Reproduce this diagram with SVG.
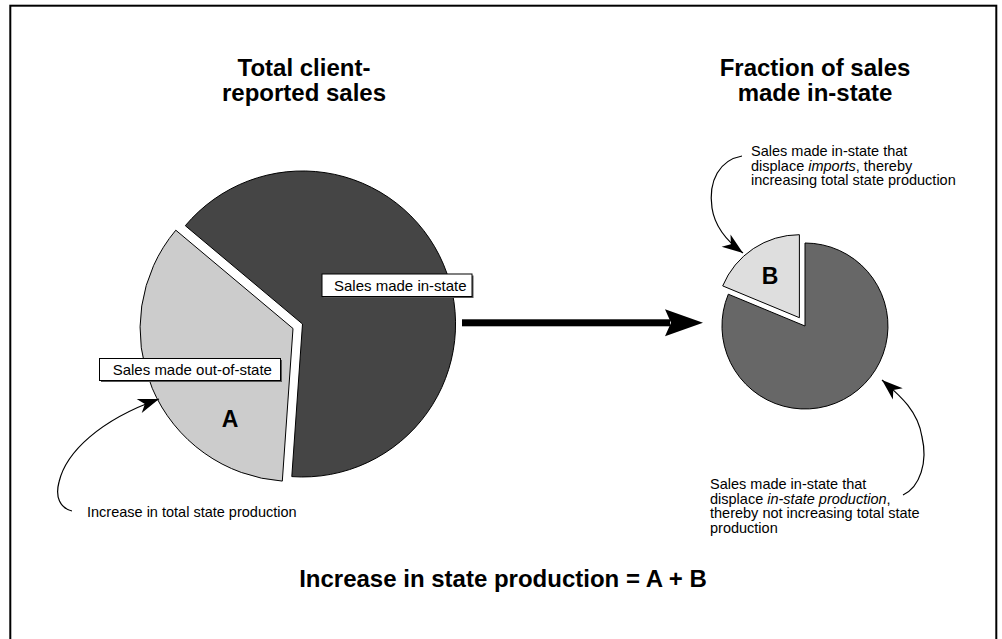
<svg xmlns="http://www.w3.org/2000/svg" width="1002" height="639" viewBox="0 0 1002 639">
<style>
.title{font-family:"Liberation Sans",Arial,sans-serif;font-weight:bold;font-size:24px;fill:#000;text-anchor:middle}
.note{font-family:"Liberation Sans",Arial,sans-serif;font-size:14.5px;fill:#000}
.lbl{font-family:"Liberation Sans",Arial,sans-serif;font-size:15px;fill:#000}
.letter{font-family:"Liberation Sans",Arial,sans-serif;font-weight:bold;font-size:23px;fill:#000;text-anchor:middle}
.slice{stroke:#000;stroke-width:1}
.box{fill:#fff;stroke:#000;stroke-width:1}
.shadow{fill:#555}
.curve{fill:none;stroke:#000;stroke-width:1.2}
</style>
<defs>
<marker id="head" markerUnits="userSpaceOnUse" markerWidth="24" markerHeight="18" viewBox="-22 -9 24 18" refX="0" refY="0" orient="auto">
<path d="M0,0 L-21,-7.5 L-15,0 L-21,7.5 Z" fill="#000"/>
</marker>
</defs>
<rect x="10.3" y="5.7" width="986" height="700" fill="#fff" stroke="#000" stroke-width="2"/>

<g id="title-left">
<text class="title" x="304" y="76">Total client-</text>
<text class="title" x="304" y="100.5">reported sales</text>
</g>
<g id="title-right">
<text class="title" x="815" y="76">Fraction of sales</text>
<text class="title" x="815" y="100.5">made in-state</text>
</g>

<g id="pie-left">
<path class="slice" fill="#454545" d="M302.5,324 L185.3,225.7 A153,153 0 1 1 291.8,476.6 Z"/>
<path class="slice" fill="#cccccc" d="M293,328.5 L282.3,481.1 A153,153 0 0 1 175.8,230.2 Z"/>
<text class="letter" x="230" y="427">A</text>
</g>

<g id="label-in-state">
<rect class="shadow" x="323.5" y="275.5" width="150" height="22.5"/>
<rect class="box" x="322" y="274" width="150" height="22.5"/>
<text class="lbl" x="334" y="291">Sales made in-state</text>
</g>
<g id="label-out-of-state">
<rect class="shadow" x="101" y="360" width="181" height="22"/>
<rect class="box" x="99.5" y="358.5" width="181" height="22"/>
<text class="lbl" x="112.7" y="374.5">Sales made out-of-state</text>
</g>

<g id="pie-right">
<path class="slice" fill="#676767" d="M805,326 L805,243 A83,83 0 1 1 728.3,294.2 Z"/>
<path class="slice" fill="#dedede" d="M799.4,317.7 L722.7,285.9 A83,83 0 0 1 799.4,234.7 Z"/>
<text class="letter" x="770" y="284">B</text>
</g>

<g id="note-left">
<text class="note" x="87" y="517">Increase in total state production</text>
</g>
<g id="note-top-right">
<text class="note" x="751" y="156">Sales made in-state that</text>
<text class="note" x="751" y="170.5">displace <tspan font-style="italic">imports</tspan>, thereby</text>
<text class="note" x="751" y="185">increasing total state production</text>
</g>
<g id="note-bottom-right">
<text class="note" x="710" y="489">Sales made in-state that</text>
<text class="note" x="710" y="503.5">displace <tspan font-style="italic">in-state production</tspan>,</text>
<text class="note" x="710" y="518">thereby not increasing total state</text>
<text class="note" x="710" y="532.5">production</text>
</g>

<g id="connectors">
<rect x="462" y="319.3" width="208" height="7" fill="#000"/>
<polygon points="665,309.3 703,322.8 665,336.2 671,322.8" fill="#000"/>
<path class="curve" d="M72,511 C60,508 55,497 59,482 C66,452 100,420 159,399" marker-end="url(#head)"/>
<path class="curve" d="M742,156 C720,160 708,180 712,208 C715,228 728,242 743,253" marker-end="url(#head)"/>
<path class="curve" d="M903,495 C920,487 928,462 922,437 C918,410 898,394 882,380" marker-end="url(#head)"/>
</g>

<g id="formula">
<text class="title" x="503" y="587">Increase in state production = A + B</text>
</g>
</svg>
